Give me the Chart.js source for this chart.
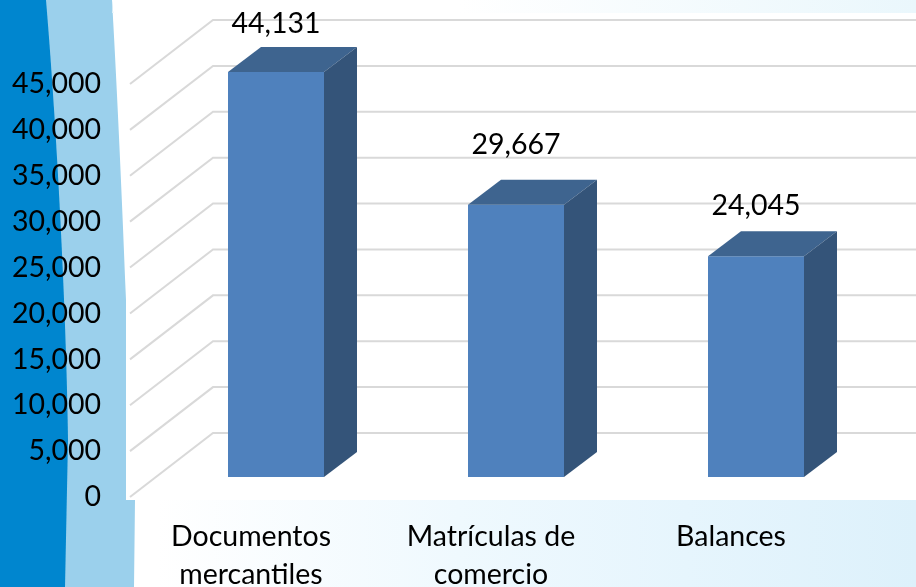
<!DOCTYPE html>
<html>
<head>
<meta charset="utf-8">
<title>Documentos</title>
<script src="https://cdn.jsdelivr.net/npm/chart.js@4/dist/chart.umd.js"></script>
<style>
  html, body { margin: 0; padding: 0; background: #fff; }
  #wrap { width: 916px; height: 587px; }
</style>
</head>
<body>
<div id="wrap"><canvas id="chart" width="916" height="587"></canvas></div>
<script>
const categories = [['Documentos', 'mercantiles'], ['Matrículas de', 'comercio'], ['Balances']];
const values = [44131, 29667, 24045];
const yTicks = [0, 5000, 10000, 15000, 20000, 25000, 30000, 35000, 40000, 45000];

const FONT = 'Lato, Carlito, Calibri, sans-serif';
const TEXT_SIZE = 28.5;

// the 3d look: how far the back wall and bar tops are pushed from the front plane
const WALL = { dx: 83, dy: -64, floor: 20 };
const BAR_DEPTH = { dx: 33, dy: -25 };
const LABEL_LIFT = [48, 60, 51];

const slideBackground = {
  id: 'slideBackground',
  beforeDraw(chart) {
    const { ctx, width, height } = chart;
    ctx.save();
    const top = ctx.createLinearGradient(0, 0, width, 0);
    top.addColorStop(0.5, '#ffffff');
    top.addColorStop(1, '#eaf7fc');
    ctx.fillStyle = top;
    ctx.fillRect(0, 0, width, 250);

    const bottom = ctx.createLinearGradient(0, 0, width, 0);
    bottom.addColorStop(0.17, '#ffffff');
    bottom.addColorStop(0.5, '#eff9fe');
    bottom.addColorStop(0.75, '#e6f5fd');
    bottom.addColorStop(1, '#ddf1fb');
    ctx.fillStyle = bottom;
    ctx.fillRect(0, 250, width, height - 250);

    // light band
    ctx.fillStyle = '#9bd0ec';
    ctx.beginPath();
    ctx.moveTo(0, 0);
    ctx.lineTo(112, 0);
    ctx.bezierCurveTo(122, 100, 128, 300, 135, 500);
    ctx.lineTo(134, height);
    ctx.lineTo(0, height);
    ctx.closePath();
    ctx.fill();

    // dark band
    ctx.fillStyle = '#0086cf';
    ctx.beginPath();
    ctx.moveTo(0, 0);
    ctx.lineTo(46, 0);
    ctx.bezierCurveTo(56, 120, 66, 300, 68, 440);
    ctx.lineTo(65, height);
    ctx.lineTo(0, height);
    ctx.closePath();
    ctx.fill();

    // white plot panel
    ctx.fillStyle = '#ffffff';
    ctx.beginPath();
    ctx.moveTo(112, 13);
    ctx.lineTo(width, 13);
    ctx.lineTo(width, 500);
    ctx.lineTo(126, 500);
    ctx.lineTo(126, 300);
    ctx.bezierCurveTo(121, 170, 116, 70, 112, 0);
    ctx.closePath();
    ctx.fill();
    ctx.restore();
  }
};

const wallGrid = {
  id: 'wallGrid',
  beforeDatasetsDraw(chart) {
    const { ctx, width, scales: { y } } = chart;
    ctx.save();
    ctx.strokeStyle = '#d9d9d9';
    ctx.lineWidth = 2;
    yTicks.forEach(v => {
      const py = y.getPixelForValue(v) + WALL.floor;
      ctx.beginPath();
      ctx.moveTo(130, py);
      ctx.lineTo(130 + WALL.dx, py + WALL.dy);
      ctx.lineTo(width, py + WALL.dy);
      ctx.stroke();
    });
    ctx.restore();
  }
};

const barFaces = {
  id: 'barFaces',
  afterDatasetsDraw(chart) {
    const { ctx } = chart;
    ctx.save();
    chart.getDatasetMeta(0).data.forEach((bar, i) => {
      const left = bar.x - bar.width / 2;
      const right = bar.x + bar.width / 2;
      const { dx, dy } = BAR_DEPTH;
      ctx.fillStyle = '#3e648f';
      ctx.beginPath();
      ctx.moveTo(left, bar.y);
      ctx.lineTo(left + dx, bar.y + dy);
      ctx.lineTo(right + dx, bar.y + dy);
      ctx.lineTo(right, bar.y);
      ctx.closePath();
      ctx.fill();
      ctx.fillStyle = '#345479';
      ctx.beginPath();
      ctx.moveTo(right, bar.y);
      ctx.lineTo(right + dx, bar.y + dy);
      ctx.lineTo(right + dx, bar.base + dy);
      ctx.lineTo(right, bar.base);
      ctx.closePath();
      ctx.fill();

      ctx.fillStyle = '#000';
      ctx.font = TEXT_SIZE + 'px ' + FONT;
      ctx.textAlign = 'center';
      ctx.textBaseline = 'middle';
      ctx.fillText(values[i].toLocaleString('en-US'), bar.x, bar.y - LABEL_LIFT[i]);
    });
    ctx.restore();
  }
};

new Chart(document.getElementById('chart'), {
  type: 'bar',
  data: {
    labels: categories,
    datasets: [{ data: values, backgroundColor: '#4f81bd', barPercentage: 0.4, categoryPercentage: 1, borderWidth: 0 }]
  },
  plugins: [slideBackground, wallGrid, barFaces],
  options: {
    responsive: false,
    animation: false,
    layout: { padding: { top: 64, right: 40, bottom: 0, left: 0 } },
    plugins: { legend: { display: false }, tooltip: { enabled: false } },
    scales: {
      x: {
        grid: { display: false, drawTicks: false },
        border: { display: false },
        afterFit: s => { s.height = 110; s.paddingLeft = 0; s.paddingRight = 0; },
        ticks: {
          color: '#000', padding: 41, labelOffset: -25, maxRotation: 0, autoSkip: false,
          font: { family: FONT, size: TEXT_SIZE, lineHeight: 1.33 }
        }
      },
      y: {
        min: 0, max: 45000,
        grid: { display: false, drawTicks: false },
        border: { display: false },
        afterFit: s => { s.width = 156; s.paddingTop = 0; s.paddingBottom = 0; },
        afterBuildTicks: s => { s.ticks = yTicks.map(value => ({ value })); },
        ticks: {
          color: '#000', padding: 55, labelOffset: 20,
          font: { family: FONT, size: TEXT_SIZE },
          callback: v => v.toLocaleString('en-US')
        }
      }
    }
  }
});
</script>
</body>
</html>
